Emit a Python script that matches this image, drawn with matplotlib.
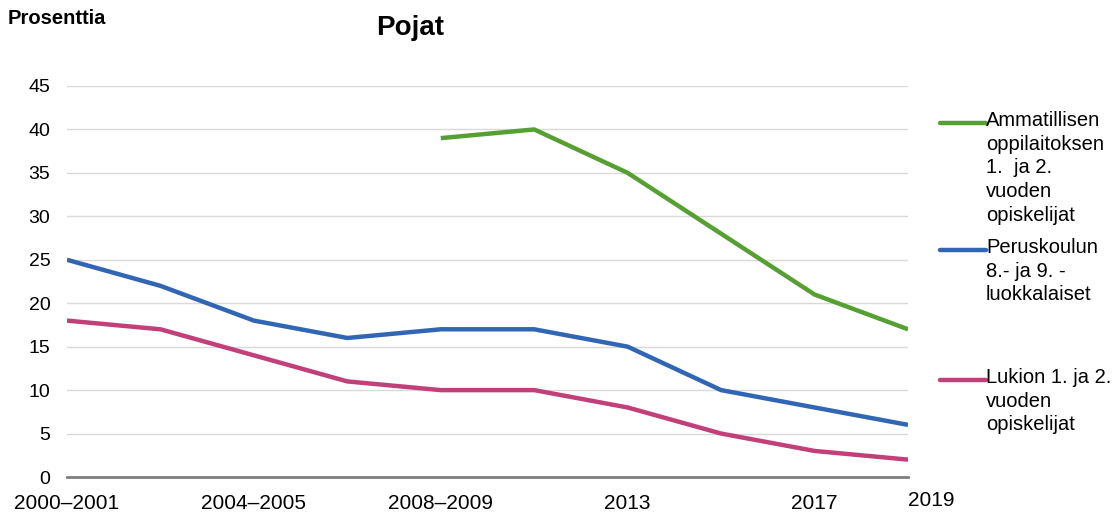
import matplotlib
matplotlib.use('Agg')
import matplotlib.pyplot as plt
from matplotlib.lines import Line2D
import numpy as np

plt.rcParams.update({'font.size': 14, 'font.family': 'Liberation Sans'})

periods = ['2000–2001', '2002–2003', '2004–2005', '2006–2007', '2008–2009',
           '2010–2011', '2013', '2015', '2017', '2019']
shown_labels = ['2000–2001', '', '2004–2005', '', '2008–2009', '', '2013', '', '2017', '2019']

ammatillinen = [np.nan, np.nan, np.nan, np.nan, 39, 40, 35, 28, 21, 17]
peruskoulu = [25, 22, 18, 16, 17, 17, 15, 10, 8, 6]
lukio = [18, 17, 14, 11, 10, 10, 8, 5, 3, 2]

names = ['Ammatillisen\noppilaitoksen\n1.  ja 2.\nvuoden\nopiskelijat',
         'Peruskoulun\n8.- ja 9. -\nluokkalaiset',
         'Lukion 1. ja 2.\nvuoden\nopiskelijat']
colors = ['#56A032', '#3166B5', '#C2407A']

W, H = 1114, 512
fig = plt.figure(figsize=(W / 100, H / 100), dpi=100)
ax = fig.add_axes([67 / W, 1 - 477 / H, 841 / W, 391 / H])

x = np.arange(len(periods))
for y, c in zip([ammatillinen, peruskoulu, lukio], colors):
    ax.plot(x, y, color=c, lw=3.2, solid_capstyle='butt', zorder=3)

ax.set_xlim(0, 9)
ax.set_ylim(0, 45)
ax.set_yticks(range(0, 50, 5))
ax.set_xticks(x)
ax.set_xticklabels(shown_labels)
ax.tick_params(length=0)
ax.tick_params(axis='x', pad=12, labelsize=15)
ax.tick_params(axis='y', pad=12, labelsize=14)
last = ax.get_xticklabels()[-1]
last.set_y(0.008)
last.set_horizontalalignment('left')
ax.grid(axis='y', color='#D9D9D9', lw=1)
ax.set_axisbelow(True)
for s in ['top', 'right', 'left']:
    ax.spines[s].set_visible(False)
ax.spines['bottom'].set_color('#7F7F7F')
ax.spines['bottom'].set_linewidth(2)
ax.spines['bottom'].set_zorder(4)

# legend entries placed separately, as in the original
legend_rows = [123, 250, 380]
for n, c, row in zip(names, colors, legend_rows):
    yy = 1 - row / H
    fig.add_artist(Line2D([940 / W, 986 / W], [yy, yy], color=c, lw=3.2,
                          solid_capstyle='round', transform=fig.transFigure))
    fig.text(986 / W, yy + 12 / H, n, fontsize=14.5, va='top', ha='left',
             linespacing=1.31)

fig.text(8 / W, 1 - 18 / H, 'Prosenttia', fontsize=14.5, fontweight='bold', va='center')
fig.text(410 / W, 1 - 28 / H, 'Pojat', fontsize=20, fontweight='bold', ha='center', va='center')

plt.savefig('out.png', dpi=100)
